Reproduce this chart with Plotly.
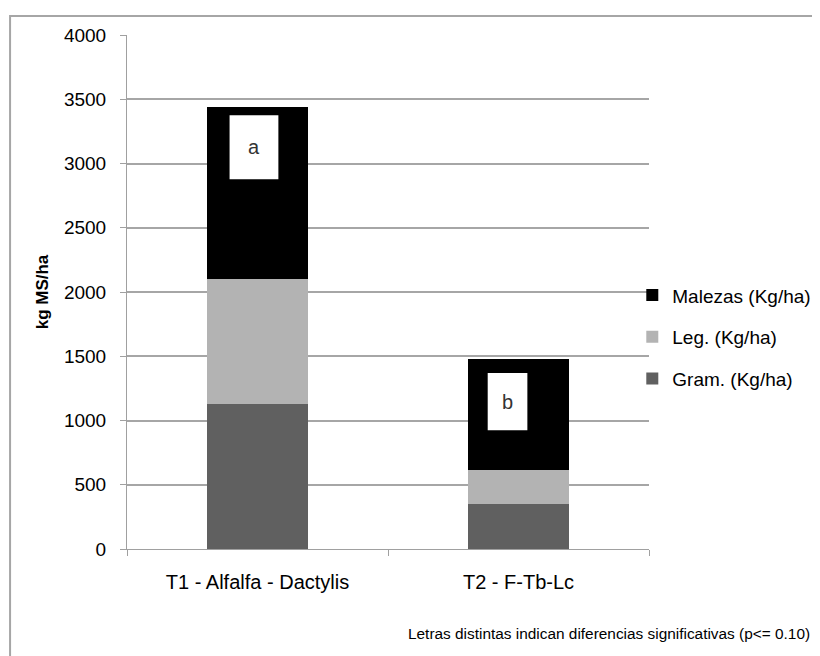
import plotly.graph_objects as go

categories = ["T1 - Alfalfa - Dactylis", "T2 - F-Tb-Lc"]
gram = [1125, 348]
leg = [975, 266]
malezas = [1337, 861]
series_names = ["Gram. (Kg/ha)", "Leg. (Kg/ha)", "Malezas (Kg/ha)"]
series_colors = ["#606060", "#b3b3b3", "#000000"]
legend_ranks = [3, 2, 1]
y_ticks = [0, 500, 1000, 1500, 2000, 2500, 3000, 3500, 4000]

# significance letters and their white boxes (category offset, value range)
letters = ["a", "b"]
box_x = [(-0.107, 0.08), (-0.118, 0.034)]
box_y = [(2877, 3375), (925, 1369)]

FONT = "Liberation Sans, Arial"

fig = go.Figure()
for i, (name, vals, col, rk) in enumerate(zip(series_names, [gram, leg, malezas], series_colors, legend_ranks)):
    fig.add_trace(go.Bar(
        x=categories, y=vals, name=name, marker_color=col,
        marker_line_width=0, legendgroup=f"g{i}", legendrank=rk,
    ))

shapes = []
annotations = []
for i, (lt, bx, by) in enumerate(zip(letters, box_x, box_y)):
    shapes.append(dict(type="rect", xref="x", yref="y",
                       x0=i + bx[0], x1=i + bx[1], y0=by[0], y1=by[1],
                       fillcolor="white", line=dict(color="white", width=0), layer="above"))
    annotations.append(dict(xref="x", yref="y", x=i + (bx[0] + bx[1]) / 2,
                            y=(by[0] + by[1]) / 2, text=lt, showarrow=False,
                            font=dict(family=FONT, size=20, color="#333333")))

# outer chart frame
shapes.append(dict(type="rect", xref="paper", yref="paper",
                   x0=-0.224, x1=1.4, y0=-0.35, y1=1.037,
                   line=dict(color="#a6a6a6", width=2), fillcolor="rgba(0,0,0,0)", layer="below"))

annotations.append(dict(xref="paper", yref="paper", x=1.313, y=-0.165, xanchor="right", yanchor="middle",
                        text="Letras distintas indican diferencias significativas (p<= 0.10)",
                        showarrow=False, font=dict(family=FONT, size=15.4, color="#000000")))

fig.update_layout(
    width=820, height=656,
    margin=dict(l=119, r=177, t=27, b=115),
    paper_bgcolor="white", plot_bgcolor="white",
    barmode="stack", bargap=0.61,
    font=dict(family=FONT, size=19, color="#000000"),
    showlegend=True,
    legend=dict(x=0.968, xanchor="left", y=0.412, yanchor="middle",
                traceorder="grouped", tracegroupgap=14,
                bgcolor="rgba(0,0,0,0)", font=dict(family=FONT, size=19),
                itemwidth=30),
    shapes=shapes, annotations=annotations,
    xaxis=dict(showgrid=False, showline=True, linecolor="#a0a0a0", linewidth=1,
               ticks="outside", tickson="boundaries", ticklen=6, tickcolor="#a0a0a0",
               ticklabelstandoff=15, tickfont=dict(family=FONT, size=20)),
    yaxis=dict(range=[0, 4000], tickvals=y_ticks, showgrid=True, gridcolor="#a6a6a6", gridwidth=1.5,
               showline=True, linecolor="#a0a0a0", linewidth=1, ticks="outside", ticklen=6,
               tickcolor="#a0a0a0", ticklabelstandoff=10, zeroline=False,
               tickfont=dict(family=FONT, size=19),
               title=dict(text="<b>kg MS/ha</b>", standoff=10,
                          font=dict(family=FONT, size=17))),
)

fig.write_html("out.html")
